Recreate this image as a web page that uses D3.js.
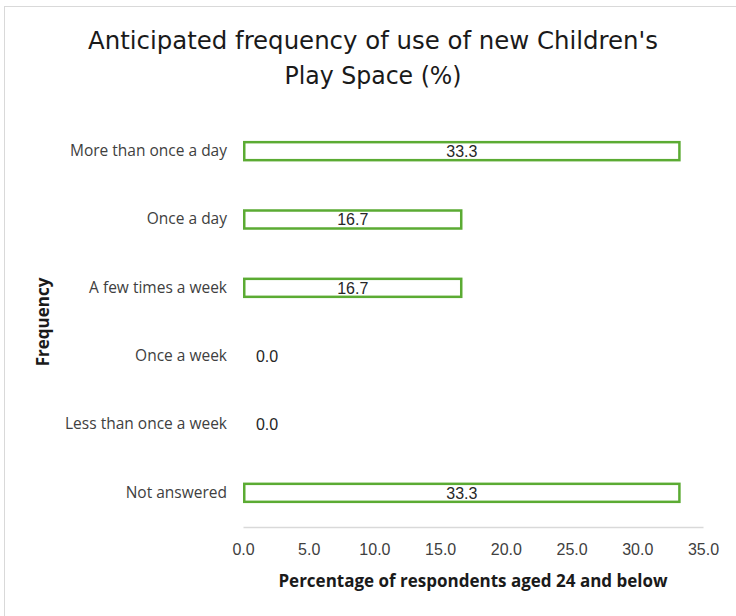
<!DOCTYPE html>
<html><head><meta charset="utf-8">
<script src="https://cdn.jsdelivr.net/npm/d3@7"></script>
<style>html,body{margin:0;padding:0;background:#fff;}</style>
</head><body>
<svg id="c" width="736" height="616"></svg>
<script>
const categories = ["More than once a day","Once a day","A few times a week","Once a week","Less than once a week","Not answered"];
const values = [33.3, 16.7, 16.7, 0.0, 0.0, 33.3];
const xTicks = [0,5,10,15,20,25,30,35];
const titleLines = ["Anticipated frequency of use of new Children's","Play Space (%)"];
const xTitle = "Percentage of respondents aged 24 and below";
const yTitle = "Frequency";

const svg = d3.select("#c");
svg.append("rect").attr("x",4.5).attr("y",6.5).attr("width",740).attr("height",620)
  .attr("fill","#fff").attr("stroke","#d9d9d9").attr("stroke-width",1);

const x = d3.scaleLinear().domain([0,35]).range([243,703]);
const y = d3.scaleBand().domain(categories).range([117,527]).paddingInner(0.7).paddingOuter(0.35);

const labelFont = "'Open Sans', Lato, sans-serif";
const numFont = "'Liberation Sans', Arial, sans-serif";

// title
svg.append("g").selectAll("text").data(titleLines).join("text")
  .attr("x",373).attr("y",(d,i)=>49+i*35)
  .attr("text-anchor","middle")
  .attr("font-family","'Liberation Sans Narrow', 'DejaVu Sans Condensed', sans-serif")
  .attr("font-size",25).attr("fill","#1a1a1a")
  .attr("textLength",(d,i)=> i===0?570:177).attr("lengthAdjust","spacingAndGlyphs")
  .text(d=>d);

// x axis
const xAxis = d3.axisBottom(x).tickValues(xTicks).tickFormat(d3.format(".1f")).tickSize(0).tickPadding(17);
const gx = svg.append("g").attr("transform","translate(0,527)").call(xAxis);
gx.select(".domain").attr("stroke","#d9d9d9").attr("stroke-width",1.5);
gx.selectAll("text").attr("font-family",numFont).attr("font-size",16).attr("fill","#404040");

// y axis labels
const yAxis = d3.axisLeft(y).tickSize(0).tickPadding(16);
const gy = svg.append("g").attr("transform","translate(243,0)").call(yAxis);
gy.select(".domain").remove();
gy.selectAll("text").attr("font-family",labelFont).attr("font-size",15.5).attr("fill","#404040");

// bars
svg.append("g").selectAll("rect").data(categories).join("rect")
  .filter((d,i)=>values[i]>0)
  .attr("x",x(0)+1.25)
  .attr("y",d=>y(d)+1.25)
  .attr("width",(d)=>x(values[categories.indexOf(d)])-x(0)-2.5)
  .attr("height",y.bandwidth()-2.5)
  .attr("fill","#fff").attr("stroke","#5bab33").attr("stroke-width",2.5);

// value labels
svg.append("g").selectAll("text").data(categories).join("text")
  .attr("x",(d,i)=> values[i]>0 ? (x(0)+x(values[i]))/2 : x(0)+24)
  .attr("y",d=>y(d)+y.bandwidth()/2)
  .attr("dy","0.36em").attr("text-anchor","middle")
  .attr("font-family",numFont).attr("font-size",16).attr("fill","#262626")
  .text((d,i)=>d3.format(".1f")(values[i]));

// axis titles
svg.append("text").attr("x",473).attr("y",587).attr("text-anchor","middle")
  .attr("font-family",labelFont).attr("font-weight","bold").attr("font-size",17).attr("fill","#1a1a1a")
  .text(xTitle);
svg.append("text").attr("transform","translate(49,322) rotate(-90)").attr("text-anchor","middle")
  .attr("font-family",labelFont).attr("font-weight","bold").attr("font-size",17).attr("fill","#1a1a1a")
  .text(yTitle);
</script>
</body></html>
